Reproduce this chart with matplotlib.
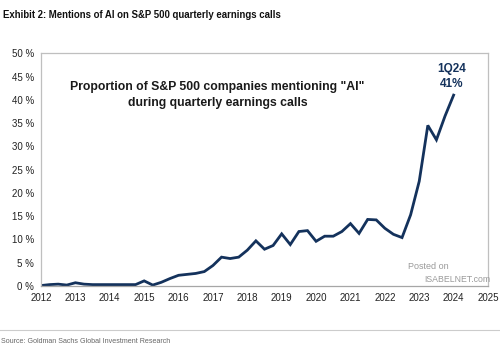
import matplotlib
matplotlib.use("Agg")
import matplotlib.pyplot as plt
import numpy as np

plt.rcParams['font.family'] = ['Liberation Sans', 'DejaVu Sans']

# Quarterly data 1Q12 .. 1Q24 (% of S&P 500 companies mentioning "AI")
quarters = np.arange(2012.0, 2024.01, 0.25)
values = [
    0.1, 0.3, 0.4, 0.2,      # 2012
    0.7, 0.4, 0.3, 0.3,      # 2013
    0.3, 0.3, 0.3, 0.3,      # 2014
    1.1, 0.2, 0.8, 1.6,      # 2015
    2.3, 2.5, 2.7, 3.1,      # 2016
    4.4, 6.2, 5.9, 6.2,      # 2017
    7.7, 9.7, 7.9, 8.7,      # 2018
    11.2, 8.9, 11.7, 11.9,   # 2019
    9.6, 10.7, 10.7, 11.7,   # 2020
    13.4, 11.3, 14.3, 14.2,  # 2021
    12.4, 11.1, 10.4, 15.3,  # 2022
    22.5, 34.5, 31.4, 36.5,  # 2023
    41.0,                    # 2024
]
year_ticks = list(range(2012, 2026))
pct_ticks = list(range(0, 51, 5))

navy = '#14325c'

fig = plt.figure(figsize=(5.0, 3.49), dpi=100)
ax = fig.add_axes([0.082, 0.1805, 0.894, 0.667])
ax.plot(quarters, values, color=navy, lw=2.0, solid_joinstyle='miter')
ax.set_xlim(2012, 2025)
ax.set_ylim(0, 50)
ax.set_xticks(year_ticks)
ax.set_xticklabels([str(y) for y in year_ticks])
ax.set_yticks(pct_ticks)
ax.set_yticklabels([f'{p} %' for p in pct_ticks])
ax.tick_params(length=0, labelsize=7, colors='#222222', pad=5)
for s in ax.spines.values():
    s.set_color('#bfbfbf')
    s.set_linewidth(0.9)
ax.spines['bottom'].set_color('#a6a6a6')

ax.text(0.395, 0.82, 'Proportion of S&P 500 companies mentioning "AI"\nduring quarterly earnings calls',
        transform=ax.transAxes, ha='center', va='center', fontsize=8.8, fontweight='bold',
        color='#1a1a1a', linespacing=1.5)
ax.text(2023.95, 45.0, '1Q24\n41%', ha='center', va='center', fontsize=8.5,
        fontweight='bold', color=navy, linespacing=1.25)

ax.text(0.821, 0.082, 'Posted on', transform=ax.transAxes, fontsize=6.5, color='#9a9a9a',
        ha='left', va='center')
ax.text(0.857, 0.026, 'ISABELNET.com', transform=ax.transAxes, fontsize=6.3, color='#9a9a9a',
        ha='left', va='center')

fig.text(0.006, 0.958, 'Exhibit 2: Mentions of AI on S&P 500 quarterly earnings calls',
         fontsize=6.95, fontweight='bold', color='#111111', va='center', ha='left')
fig.add_artist(plt.Line2D([0, 1], [0.054, 0.054], color='#cccccc', lw=0.8, transform=fig.transFigure))
fig.text(0.002, 0.022, 'Source: Goldman Sachs Global Investment Research', fontsize=5.1,
         color='#666666', va='center', ha='left')

fig.savefig('out.png', dpi=100, facecolor='white')
